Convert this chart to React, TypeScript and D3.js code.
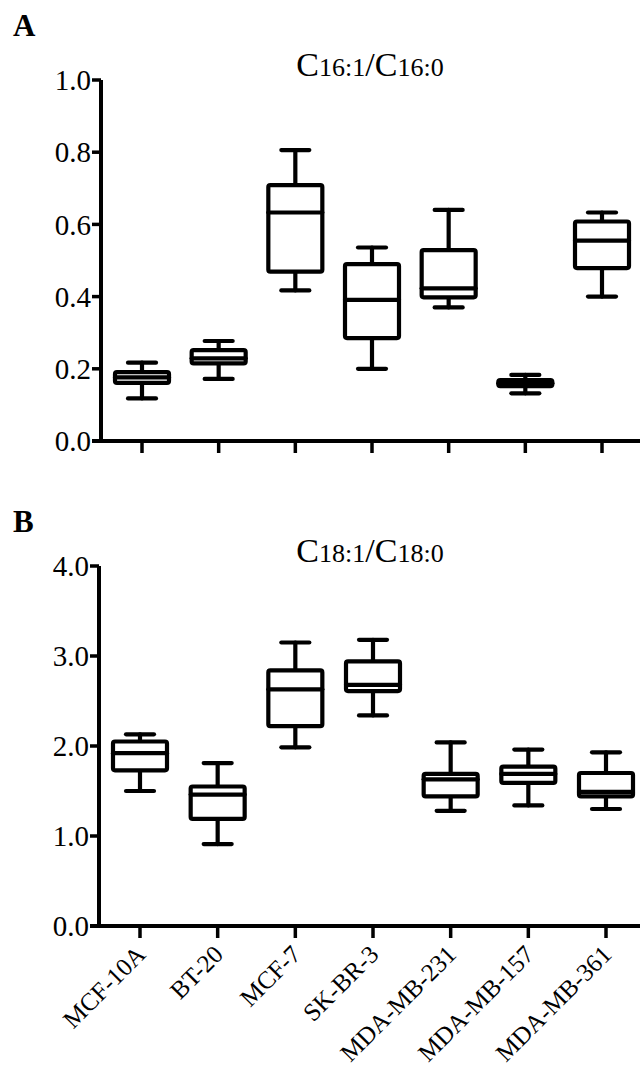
import React from "react";
import * as d3 from "d3";

const categories = ["MCF-10A", "BT-20", "MCF-7", "SK-BR-3", "MDA-MB-231", "MDA-MB-157", "MDA-MB-361"];

// Panel A: C16:1/C16:0  [whiskerLow, q1, median, q3, whiskerHigh]
const panelAStats: number[][] = [
  [0.118, 0.161, 0.176, 0.191, 0.217],
  [0.172, 0.215, 0.229, 0.252, 0.277],
  [0.417, 0.469, 0.633, 0.709, 0.806],
  [0.2, 0.285, 0.391, 0.49, 0.536],
  [0.37, 0.398, 0.423, 0.529, 0.64],
  [0.132, 0.152, 0.16, 0.169, 0.183],
  [0.4, 0.479, 0.555, 0.608, 0.633],
];
const panelATicks = [0, 0.2, 0.4, 0.6, 0.8, 1.0];

// Panel B: C18:1/C18:0
const panelBStats: number[][] = [
  [1.5, 1.73, 1.92, 2.05, 2.13],
  [0.91, 1.19, 1.46, 1.55, 1.81],
  [1.985, 2.22, 2.63, 2.84, 3.15],
  [2.34, 2.61, 2.68, 2.94, 3.18],
  [1.28, 1.44, 1.63, 1.69, 2.04],
  [1.34, 1.59, 1.69, 1.77, 1.96],
  [1.3, 1.44, 1.49, 1.7, 1.93],
];
const panelBTicks = [0, 1, 2, 3, 4];

const FONT = "'Liberation Serif', 'Times New Roman', serif";

type PanelProps = {
  stats: number[][];
  ticks: number[];
  yTop: number;
  yBottom: number;
  axisX: number;
  xRange: [number, number];
  letter: string;
  letterY: number;
  titleY: number;
  titleNums: [string, string];
  showLabels: boolean;
};

function Panel({ stats, ticks, yTop, yBottom, axisX, xRange, letter, letterY, titleY, titleNums, showLabels }: PanelProps) {
  const y = d3.scaleLinear().domain([0, ticks[ticks.length - 1]]).range([yBottom, yTop]);
  const x = d3.scalePoint<string>().domain(categories).range(xRange);
  const boxW = 54;
  const capW = 28;
  const sw = 4.2;
  return (
    <g>
      <text x={13} y={letterY} fontFamily={FONT} fontSize={31} fontWeight="bold">{letter}</text>
      <text x={370} y={titleY} fontFamily={FONT} textAnchor="middle" fontSize={34}>
        <tspan>C</tspan>
        <tspan fontSize={26}>{titleNums[0]}</tspan>
        <tspan>/C</tspan>
        <tspan fontSize={26}>{titleNums[1]}</tspan>
      </text>
      {/* axes */}
      <line x1={axisX} x2={axisX} y1={y(ticks[ticks.length - 1])} y2={yBottom} stroke="#000" strokeWidth={4} />
      <line x1={axisX - 9} x2={640} y1={yBottom} y2={yBottom} stroke="#000" strokeWidth={4} />
      {ticks.map((t) => (
        <g key={t}>
          <line x1={axisX - 9} x2={axisX} y1={y(t)} y2={y(t)} stroke="#000" strokeWidth={3.5} />
          <text x={axisX - 10} y={y(t)} dy="0.35em" textAnchor="end" fontFamily={FONT} fontSize={29}>
            {d3.format(".1f")(t)}
          </text>
        </g>
      ))}
      {categories.map((c) => (
        <line key={c} x1={x(c)} x2={x(c)} y1={yBottom} y2={yBottom + 12} stroke="#000" strokeWidth={3.5} />
      ))}
      {showLabels &&
        categories.map((c) => (
          <text
            key={c}
            transform={`translate(${(x(c) as number) + 7},${yBottom + 30}) rotate(-45)`}
            textAnchor="end"
            fontFamily={FONT}
            fontSize={25}
          >
            {c}
          </text>
        ))}
      {stats.map((s, i) => {
        const cx = x(categories[i]) as number;
        const [lo, q1, med, q3, hi] = s;
        return (
          <g key={i} stroke="#000" strokeWidth={sw} strokeLinecap="round" strokeLinejoin="round" fill="none">
            <line x1={cx} x2={cx} y1={y(hi)} y2={y(q3)} />
            <line x1={cx} x2={cx} y1={y(q1)} y2={y(lo)} />
            <line x1={cx - capW / 2} x2={cx + capW / 2} y1={y(hi)} y2={y(hi)} />
            <line x1={cx - capW / 2} x2={cx + capW / 2} y1={y(lo)} y2={y(lo)} />
            <rect x={cx - boxW / 2} y={y(q3)} width={boxW} height={y(q1) - y(q3)} fill="#fff" rx={2} />
            <line x1={cx - boxW / 2} x2={cx + boxW / 2} y1={y(med)} y2={y(med)} />
          </g>
        );
      })}
    </g>
  );
}

export default function App() {
  return (
    <svg width={640} height={1069} style={{ position: "absolute", left: 0, top: 0, background: "#fff" }}>
      <rect width={640} height={1069} fill="#fff" />
      <Panel
        stats={panelAStats}
        ticks={panelATicks}
        yTop={80}
        yBottom={441}
        axisX={101}
        xRange={[142, 602]}
        letter="A"
        letterY={36}
        titleY={76}
        titleNums={["16:1", "16:0"]}
        showLabels={false}
      />
      <Panel
        stats={panelBStats}
        ticks={panelBTicks}
        yTop={566}
        yBottom={926}
        axisX={99}
        xRange={[140, 606]}
        letter="B"
        letterY={532}
        titleY={562}
        titleNums={["18:1", "18:0"]}
        showLabels={true}
      />
    </svg>
  );
}
